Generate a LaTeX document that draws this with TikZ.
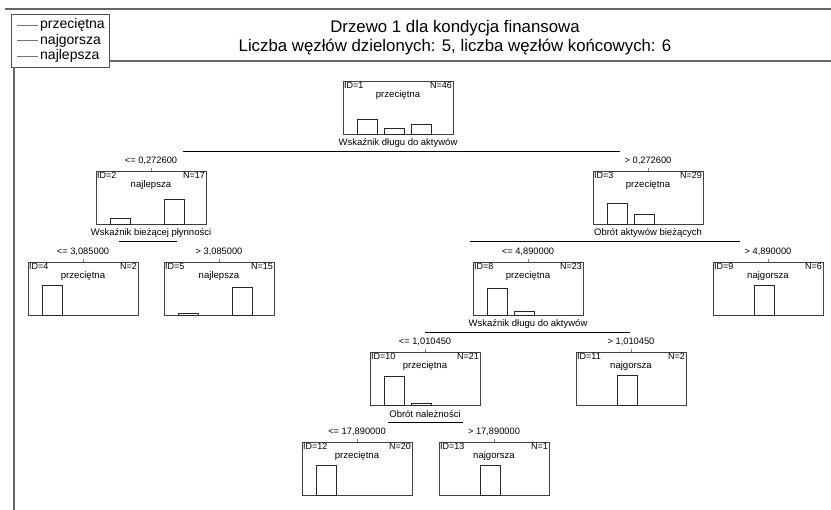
\documentclass[tikz,border=0pt]{standalone}
\usepackage{fontspec}
\setmainfont{Liberation Sans}
\tikzset{
  tbox/.style={draw=black!75, line width=0.8pt, minimum width=110pt, minimum height=53pt, inner sep=0pt, outer sep=0pt, fill=white},
  small/.style={inner sep=0.5pt, font=\fontsize{9.6}{10}\selectfont},
  idlab/.style={inner sep=0.5pt, font=\fontsize{9}{9}\selectfont},
  splitlab/.style={inner sep=0pt, font=\fontsize{9.5}{11}\selectfont},
  condlab/.style={inner sep=0pt, font=\fontsize{9.3}{10}\selectfont},
  barst/.style={draw=black!85, line width=0.8pt},
  splitline/.style={draw=black, line width=0.8pt},
  tick/.style={draw=black!50, line width=0.6pt},
  frame/.style={draw=black!60, line width=1.3pt},
  legline/.style={draw=black!55, line width=0.8pt},
  legtext/.style={inner sep=0pt, anchor=west, font=\fontsize{14}{15}\selectfont},
  titletext/.style={inner sep=0pt, font=\fontsize{16.8}{18}\selectfont}
}
\newcommand\treebox[6]{%
  \node[tbox, anchor=north west] (#1) at (#2,#3) {};
  \node[idlab, anchor=north west] at ([shift={(0.5,0.8)}]#1.north west) {ID=#4};
  \node[idlab, anchor=north east] at ([shift={(-0.5,0.8)}]#1.north east) {N=#5};
  \node[small] at ([shift={(0,14)}]#1.north) {#6};
}
\newcommand\clsbar[3]{%
  \draw[barst] ([shift={(14+27*#2,0)}]#1.south west) rectangle ++(20,-#3);
}
\begin{document}
\begin{tikzpicture}[x=1pt,y=-1pt]
\useasboundingbox (0,0) rectangle (831,510);
% frame and legend
\draw[frame] (5,9) -- (831,9);
\node[draw=black!70, line width=0.8pt, minimum width=98pt, minimum height=53pt, anchor=north west, inner sep=0pt, outer sep=0pt] (leg) at (11,14) {};
\draw[frame] (leg.east |- 0,61) -- (831,61);
\draw[frame] (14,67) -- (14,510);
\draw[legline] (17,25) -- (38,25);
\node[legtext] at (40,25) {przeciętna};
\draw[legline] (17,40.5) -- (38,40.5);
\node[legtext] at (40,40.5) {najgorsza};
\draw[legline] (17,56) -- (38,56);
\node[legtext] at (40,56) {najlepsza};
% title
\node[titletext] (t1) at (455,28) {Drzewo 1 dla kondycja finansowa};
\node[titletext] (t2) at (455,47) {Liczba węzłów dzielonych: 5, liczba węzłów końcowych: 6};
% nodes
\treebox{n1}{343}{81}{1}{46}{przeciętna}
\clsbar{n1}{0}{15}\clsbar{n1}{1}{5.9}\clsbar{n1}{2}{9.1}
\treebox{n2}{96}{171}{2}{17}{najlepsza}
\clsbar{n2}{0}{5.3}\clsbar{n2}{2}{24.7}
\treebox{n3}{593}{171}{3}{29}{przeciętna}
\clsbar{n3}{0}{20.7}\clsbar{n3}{1}{9.3}
\treebox{n4}{28}{262}{4}{2}{przeciętna}
\clsbar{n4}{0}{30}
\treebox{n5}{164}{262}{5}{15}{najlepsza}
\clsbar{n5}{0}{2}\clsbar{n5}{2}{28}
\treebox{n8}{473}{262}{8}{23}{przeciętna}
\clsbar{n8}{0}{26.1}\clsbar{n8}{1}{3.9}
\treebox{n9}{713}{262}{9}{6}{najgorsza}
\clsbar{n9}{1}{30}
\treebox{n10}{370}{352}{10}{21}{przeciętna}
\clsbar{n10}{0}{28.6}\clsbar{n10}{1}{1.4}
\treebox{n11}{576}{352}{11}{2}{najgorsza}
\clsbar{n11}{1}{30}
\treebox{n12}{302}{442}{12}{20}{przeciętna}
\clsbar{n12}{0}{30}
\treebox{n13}{439}{442}{13}{1}{najgorsza}
\clsbar{n13}{1}{30}
% split labels
\node[splitlab] (s1) at ([shift={(0,9)}]n1.south) {Wskaźnik długu do aktywów};
\node[splitlab] (s2) at ([shift={(0,9)}]n2.south) {Wskaźnik bieżącej płynności};
\node[splitlab] (s3) at ([shift={(0,9)}]n3.south) {Obrót aktywów bieżących};
\node[splitlab] (s8) at ([shift={(0,9)}]n8.south) {Wskaźnik długu do aktywów};
\node[splitlab] (s10) at ([shift={(0,9)}]n10.south) {Obrót należności};
% split lines
\coordinate (a1) at (183,151); \coordinate (b1) at (620,151);
\coordinate (a2) at (119,241); \coordinate (b2) at (177,241);
\coordinate (a3) at (470,241); \coordinate (b3) at (740,241);
\coordinate (a8) at (425,332); \coordinate (b8) at (630,332);
\coordinate (a10) at (388,422); \coordinate (b10) at (463,422);
\draw[splitline] (a1) -- (b1);
\draw[splitline] (a2) -- (b2);
\draw[splitline] (a3) -- (b3);
\draw[splitline] (a8) -- (b8);
\draw[splitline] (a10) -- (b10);
% condition labels and ticks
\foreach \n/\t in {n2/{<= 0,272600}, n3/{> 0,272600}, n4/{<= 3,085000}, n5/{> 3,085000}, n8/{<= 4,890000}, n9/{> 4,890000}, n10/{<= 1,010450}, n11/{> 1,010450}, n12/{<= 17,890000}, n13/{> 17,890000}}{
  \node[condlab] at ([shift={(0,-10)}]\n.north) {\t};
  \draw[tick] (\n.north) -- ([shift={(0,-3)}]\n.north);
}
\end{tikzpicture}
\end{document}
